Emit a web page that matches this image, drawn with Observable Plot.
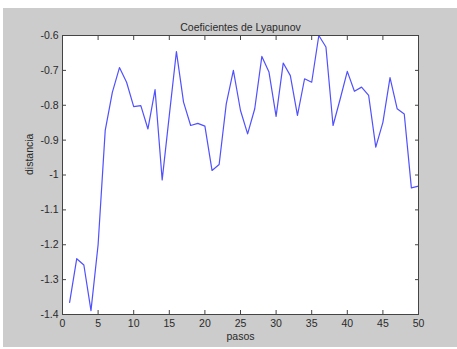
<!DOCTYPE html>
<html>
<head>
<meta charset="utf-8">
<script src="https://cdn.jsdelivr.net/npm/d3@7"></script>
<script src="https://cdn.jsdelivr.net/npm/@observablehq/plot@0.6"></script>
<style>
  html, body { margin: 0; padding: 0; background: #ffffff; }
  #wrap { position: relative; width: 457px; height: 349px; overflow: hidden; }
  #bg { position: absolute; left: 3px; top: 8px; width: 454px; height: 339px; background: #cccccc; }
  #chart { position: absolute; left: 0; top: 0; }
  #chart svg { background: transparent; }
</style>
</head>
<body>
<div id="wrap"><div id="bg"></div><div id="chart"></div></div>
<script>
const pasos = [1,2,3,4,5,6,7,8,9,10,11,12,13,14,15,16,17,18,19,20,21,22,23,24,25,26,27,28,29,30,31,32,33,34,35,36,37,38,39,40,41,42,43,44,45,46,47,48,49,50];
const distancia = [
  -1.365, -1.240, -1.258, -1.389, -1.200, -0.872, -0.763, -0.692, -0.734, -0.804,
  -0.801, -0.868, -0.755, -1.014, -0.829, -0.646, -0.791, -0.858, -0.852, -0.860,
  -0.987, -0.970, -0.796, -0.700, -0.815, -0.882, -0.810, -0.660, -0.705, -0.832,
  -0.679, -0.715, -0.829, -0.724, -0.734, -0.600, -0.633, -0.858, -0.782, -0.703,
  -0.760, -0.748, -0.772, -0.920, -0.849, -0.721, -0.810, -0.825, -1.037, -1.032
];
const xTicks = [0,5,10,15,20,25,30,35,40,45,50];
const yTicks = [-1.4,-1.3,-1.2,-1.1,-1,-0.9,-0.8,-0.7,-0.6];
const titulo = "Coeficientes de Lyapunov";
const xLabel = "pasos";
const yLabel = "distancia";

const data = pasos.map((p, i) => ({paso: p, valor: distancia[i]}));
const fmt = d => String(+(+d).toFixed(1));
const font = "'Liberation Sans', Arial, Helvetica, sans-serif";
const axisColor = "#444444";

const chart = Plot.plot({
  width: 457,
  height: 349,
  marginLeft: 62,
  marginRight: 39,
  marginTop: 35,
  marginBottom: 35,
  style: {background: "transparent", fontFamily: font, fontSize: "10.5px", color: "#2a2a2a"},
  x: {domain: [0, 50]},
  y: {domain: [-1.4, -0.6]},
  marks: [
    Plot.frame({fill: "white"}),
    Plot.line(data, {x: "paso", y: "valor", stroke: "#5050ff", strokeWidth: 1.2}),
    Plot.axisX({anchor: "bottom", ticks: xTicks, tickSize: -4, tickPadding: 9, tickFormat: fmt, stroke: axisColor, fill: "#2a2a2a", label: null}),
    Plot.axisX({anchor: "top", ticks: xTicks, tickSize: -4, tickFormat: () => "", stroke: axisColor, label: null}),
    Plot.axisY({anchor: "left", ticks: yTicks, tickSize: -4, tickPadding: 8, tickFormat: fmt, stroke: axisColor, fill: "#2a2a2a", label: null}),
    Plot.axisY({anchor: "right", ticks: yTicks, tickSize: -4, tickFormat: () => "", stroke: axisColor, label: null}),
    Plot.frame({stroke: axisColor, strokeWidth: 1}),
    Plot.text([titulo], {frameAnchor: "top", dy: -12, fontSize: 10.5, fill: "#2a2a2a"}),
    Plot.text([xLabel], {frameAnchor: "bottom", dy: 25, fontSize: 10.5, fill: "#2a2a2a"}),
    Plot.text([yLabel], {frameAnchor: "left", dx: -33, rotate: -90, fontSize: 10.5, fill: "#2a2a2a"})
  ]
});
document.getElementById("chart").appendChild(chart);
</script>
</body>
</html>
